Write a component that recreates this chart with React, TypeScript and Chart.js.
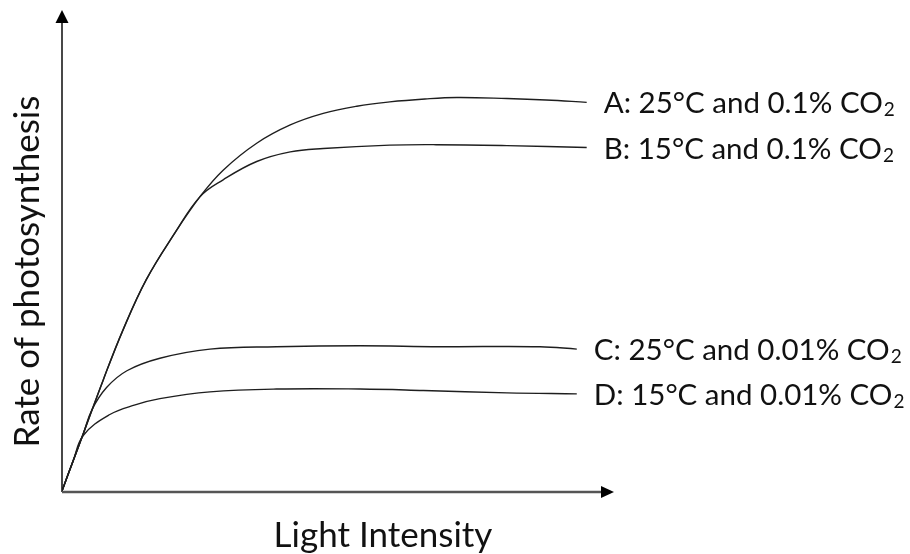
import { useEffect, useRef } from "react";
import { Chart, registerables } from "chart.js";

Chart.register(...registerables);

// Light intensity (x) and rate of photosynthesis (y), arbitrary units 0..100
const aX = [0, 2, 3.9, 7.5, 11.1, 15.3, 20.5, 25.1, 29.3, 35.4, 41.5, 47.5, 53.6, 59.6, 66, 71.8, 80.9, 88, 95.4];
const aY = [0, 6.2, 12.0, 23.1, 33.5, 43.9, 53.6, 61.2, 66.7, 72.3, 76.1, 78.5, 80.0, 80.9, 81.5, 81.8, 81.6, 81.3, 80.8];

const bX = [0, 2, 3.9, 7.5, 11.1, 15.3, 20.5, 25.1, 29.3, 35.4, 41.5, 47.5, 59.6, 68, 80.9, 95.4];
const bY = [0, 6.2, 12.0, 23.1, 33.5, 43.9, 53.6, 61.2, 64.7, 68.5, 70.5, 71.2, 71.9, 72.0, 71.8, 71.4];

const cX = [0, 2, 3.9, 5.4, 8.1, 11.8, 17.8, 26.9, 39, 54.2, 68.7, 86.9, 93.6];
const cY = [0, 6.2, 12.0, 16.8, 21.5, 25.0, 27.6, 29.5, 30.0, 30.2, 30.0, 30.0, 29.5];

const dX = [0, 2, 3.9, 8.7, 13.3, 17.8, 26.9, 39, 54.2, 65.7, 80.9, 93.6];
const dY = [0, 6.2, 11.6, 15.9, 17.9, 19.2, 20.6, 21.2, 21.2, 20.9, 20.4, 20.2];

const seriesLabels = [
  "A: 25°C and 0.1% CO₂",
  "B: 15°C and 0.1% CO₂",
  "C: 25°C and 0.01% CO₂",
  "D: 15°C and 0.01% CO₂",
];

const xTitle = "Light Intensity";
const yTitle = "Rate of photosynthesis";

const FONT = "Lato, 'Open Sans', sans-serif";
const LABEL_SIZE = 29.5;
const TITLE_SIZE = 35;

const overlay = {
  id: "overlay",
  beforeDatasetsDraw(chart: any) {
    const { ctx, chartArea, scales } = chart;
    const x0 = scales.x.getPixelForValue(0);
    const y0 = scales.y.getPixelForValue(0);
    ctx.save();
    // y axis
    ctx.strokeStyle = "#1a1a1a";
    ctx.lineWidth = 1.6;
    ctx.beginPath();
    ctx.moveTo(x0, y0 + 1);
    ctx.lineTo(x0, chartArea.top + 10);
    ctx.stroke();
    ctx.fillStyle = "#000";
    ctx.beginPath();
    ctx.moveTo(x0, chartArea.top);
    ctx.lineTo(x0 - 6.5, chartArea.top + 13);
    ctx.lineTo(x0 + 6.5, chartArea.top + 13);
    ctx.closePath();
    ctx.fill();
    // x axis
    ctx.strokeStyle = "#555";
    ctx.lineWidth = 2.4;
    ctx.beginPath();
    ctx.moveTo(x0, y0 + 1);
    ctx.lineTo(chartArea.right - 8, y0 + 1);
    ctx.stroke();
    ctx.beginPath();
    ctx.moveTo(chartArea.right + 2, y0 + 1);
    ctx.lineTo(chartArea.right - 11, y0 + 1 - 6);
    ctx.lineTo(chartArea.right - 11, y0 + 1 + 6);
    ctx.closePath();
    ctx.fill();
    ctx.restore();
  },
  afterDatasetsDraw(chart: any) {
    const { ctx, chartArea, scales } = chart;
    const x0 = scales.x.getPixelForValue(0);
    ctx.save();
    ctx.fillStyle = "#111";
    ctx.textBaseline = "alphabetic";
    ctx.textAlign = "left";
    chart.data.datasets.forEach((ds: any, i: number) => {
      const last = ds.data[ds.data.length - 1];
      const px = scales.x.getPixelForValue(last.x) + 17;
      const py = scales.y.getPixelForValue(last.y) + 11;
      const text: string = seriesLabels[i];
      const main = text.endsWith("₂") ? text.slice(0, -1) : text;
      ctx.font = `${LABEL_SIZE}px ${FONT}`;
      ctx.fillText(main, px, py);
      if (main !== text) {
        const w = ctx.measureText(main).width;
        ctx.font = `${Math.round(LABEL_SIZE * 0.66)}px ${FONT}`;
        ctx.fillText("2", px + w + 1, py + 3);
      }
    });
    // axis titles
    ctx.font = `${TITLE_SIZE}px ${FONT}`;
    ctx.textAlign = "center";
    ctx.textBaseline = "middle";
    ctx.fillText(xTitle, x0 + 321, chartArea.bottom + 45);
    ctx.translate(28, (chartArea.top + chartArea.bottom) / 2 + 21);
    ctx.rotate(-Math.PI / 2);
    ctx.fillText(yTitle, 0, 0);
    ctx.restore();
  },
};

export default function App() {
  const ref = useRef<HTMLCanvasElement>(null);
  useEffect(() => {
    const all = [
      [aX, aY],
      [bX, bY],
      [cX, cY],
      [dX, dY],
    ];
    const chart = new Chart(ref.current!, {
      type: "line",
      data: {
        datasets: all.map(([xs, ys], i) => ({
          label: seriesLabels[i],
          data: xs.map((x, j) => ({ x, y: ys[j] })),
          borderColor: "#1e1e1e",
          borderWidth: 1.4,
          pointRadius: 0,
          tension: 0.4,
          fill: false,
        })),
      },
      options: {
        responsive: false,
        animation: false,
        layout: { padding: { left: 62, right: 298, top: 10, bottom: 63 } },
        scales: {
          x: { type: "linear", min: 0, max: 100, display: false },
          y: { type: "linear", min: 0, max: 100, display: false },
        },
        plugins: { legend: { display: false }, tooltip: { enabled: false } },
      },
      plugins: [overlay],
    });
    return () => chart.destroy();
  }, []);
  return (
    <div style={{ position: "fixed", left: 0, top: 0, width: 910, height: 554, background: "#fff" }}>
      <canvas ref={ref} width={910} height={554} style={{ display: "block" }} />
    </div>
  );
}
